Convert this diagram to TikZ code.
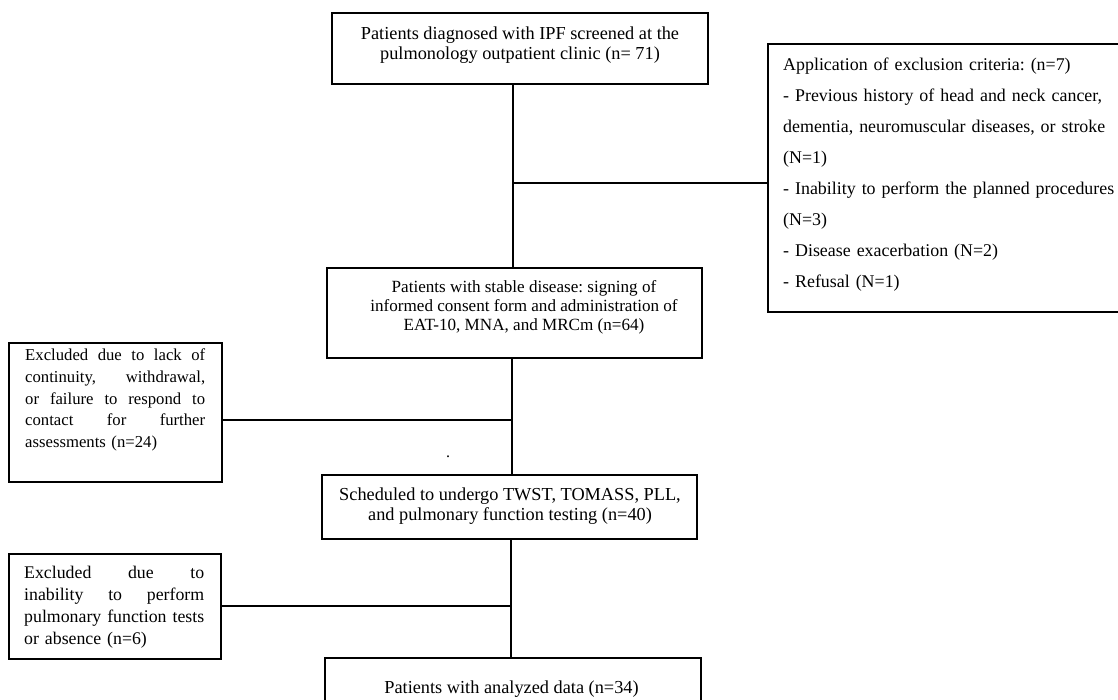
\documentclass[tikz,border=0pt]{standalone}
\usepackage{fontspec}
\setmainfont{Liberation Serif}
\usetikzlibrary{calc}
\newcommand{\jl}[1]{\leavevmode\hbox to 180pt{#1}}
\frenchspacing
\begin{document}
\frenchspacing
\begin{tikzpicture}[x=1pt,y=-1pt,
  box/.style={draw, line width=1.6pt, inner sep=0pt},
  conn/.style={line width=1.5pt},
  txt/.style={inner sep=0pt, align=center},
  ltxt/.style={inner sep=0pt, anchor=west, text width=180pt, align=left}]
\useasboundingbox (0,0) rectangle (1118,699);
% boxes
\node[box, minimum width=376pt, minimum height=71pt] (b1) at (520,48.5) {};
\node[box, minimum width=366pt, minimum height=268pt] (excl) at (951,178) {};
\node[box, minimum width=375pt, minimum height=90pt] (b2) at (514.5,313) {};
\node[box, minimum width=213pt, minimum height=139pt] (b3) at (115.5,412.5) {};
\node[box, minimum width=375pt, minimum height=64pt] (b4) at (509.5,507) {};
\node[box, minimum width=212pt, minimum height=105pt] (b5) at (115,606.5) {};
\node[box, minimum width=376pt, minimum height=62pt] (b6) at (513,689) {};
% texts
\node[txt, font=\fontsize{18.3}{20}\selectfont] (t1) at (520,45.5) {Patients diagnosed with IPF screened at the\\pulmonology outpatient clinic (n= 71)};
\node[txt, font=\fontsize{17.1}{19}\selectfont] (t2) at (524,307.5) {Patients with stable disease: signing of\\informed consent form and administration of\\EAT-10, MNA, and MRCm (n=64)};
\node[txt, font=\fontsize{18.3}{20}\selectfont] (t4) at (510,506) {Scheduled to undergo TWST, TOMASS, PLL,\\and pulmonary function testing (n=40)};
\node[txt, font=\fontsize{18.3}{20}\selectfont] (t6) at (511.5,689) {Patients with analyzed data (n=34)};
\node[inner sep=0pt, anchor=west, text width=345pt, align=left, font=\fontsize{17.9}{31}\selectfont] (te) at (783,175) {Application of exclusion criteria: (n=7)\\- Previous history of head and neck cancer,\\dementia, neuromuscular diseases, or stroke\\(N=1)\\- Inability to perform the planned procedures\\(N=3)\\- Disease exacerbation (N=2)\\- Refusal (N=1)};
\node[ltxt, font=\fontsize{16.7}{21.8}\selectfont] (t3) at (25,400) {\jl{Excluded\hfill due\hfill to\hfill lack\hfill of}\\\jl{continuity,\hfill withdrawal,}\\\jl{or\hfill failure\hfill to\hfill respond\hfill to}\\\jl{contact\hfill for\hfill further}\\assessments (n=24)};
\node[ltxt, font=\fontsize{17.8}{22}\selectfont] (t5) at (24,607) {\jl{Excluded\hfill due\hfill to}\\\jl{inability\hfill to\hfill perform}\\\jl{pulmonary\hfill function\hfill tests}\\or absence (n=6)};
\node[inner sep=0pt, anchor=base, font=\fontsize{16}{20}\selectfont] (dot) at (448,457) {.};
% connectors
\coordinate (j1) at (513,183);
\coordinate (j2) at (512,420);
\coordinate (j3) at (511,606);
\draw[conn] (b1.south -| j1) -- (b2.north -| j1);
\draw[conn] (j1) -- (j1 -| excl.west);
\draw[conn] (b2.south -| j2) -- (b4.north -| j2);
\draw[conn] (b3.east |- j2) -- (j2);
\draw[conn] (b4.south -| j3) -- (b6.north -| j3);
\draw[conn] (b5.east |- j3) -- (j3);
\end{tikzpicture}
\end{document}
